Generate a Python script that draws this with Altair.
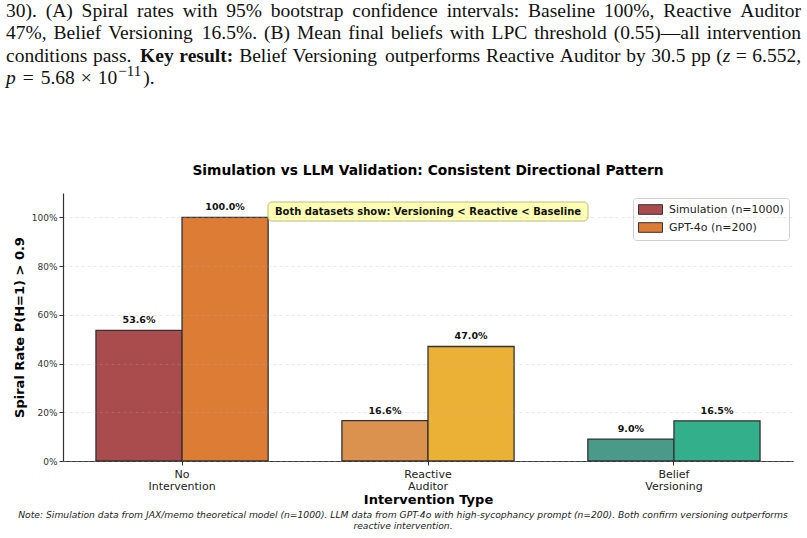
import altair as alt
import pandas as pd

categories = ["No Intervention", "Reactive Auditor", "Belief Versioning"]
series = ["Simulation (n=1000)", "GPT-4o (n=200)"]
sim_values = [0.536, 0.166, 0.090]
llm_values = [1.000, 0.470, 0.165]
sim_colors = ["#AA4B4E", "#DA924E", "#4A9A8A"]
llm_colors = ["#DD7C34", "#EBB136", "#33AF8C"]
legend_colors = ["#AA4B4E", "#DD7C34"]
y_ticks = [0, 0.2, 0.4, 0.6, 0.8, 1.0]

title_text = "Simulation vs LLM Validation: Consistent Directional Pattern"
annot_text = "Both datasets show: Versioning < Reactive < Baseline"
note_lines = [
    "Note: Simulation data from JAX/memo theoretical model (n=1000). LLM data from GPT-4o with high-sycophancy prompt (n=200). Both confirm versioning outperforms",
    "reactive intervention.",
]
para_line1 = "30). (A) Spiral rates with 95% bootstrap confidence intervals: Baseline 100%, Reactive Auditor"
para_line2 = "47%, Belief Versioning 16.5%. (B) Mean final beliefs with LPC threshold (0.55)\u2014all intervention"
para_line3_plain = "conditions pass."
para_line3_bold = "Key result:"
para_line3_rest = "Belief Versioning outperforms Reactive Auditor by 30.5 pp"
para_line3_math = ["(", "z", "=", "6.552,"]
para_line4 = ["p", "=", "5.68", "\u00d7", "10", "\u221211", ")."]

rows = []
for i, c in enumerate(categories):
    rows.append({"category": c, "series": series[0], "value": sim_values[i], "fill": sim_colors[i]})
    rows.append({"category": c, "series": series[1], "value": llm_values[i], "fill": llm_colors[i]})
df = pd.DataFrame(rows)
df["label"] = df["value"].map(lambda v: f"{v*100:.1f}%")

FONT = "DejaVu Sans"
SERIF = "Liberation Serif"

# ---------- chart ----------
x_enc = alt.X(
    "category:N",
    sort=categories,
    scale=alt.Scale(paddingInner=0.3, paddingOuter=0.134),
    axis=alt.Axis(
        title="Intervention Type",
        labelExpr="split(datum.label, ' ')",
        labelAngle=0,
        labelFontSize=11,
        labelColor="#222",
        labelLineHeight=12.5,
        labelPadding=3,
        tickSize=4,
        tickColor="#333",
        domainColor="#333",
        domainWidth=1.2,
        titleFontSize=13,
        titleFontWeight="bold",
        titlePadding=2,
        titleColor="#000",
        grid=False,
    ),
)
xoff_enc = alt.XOffset("series:N", sort=series, scale=alt.Scale(paddingInner=0, paddingOuter=0))
y_scale = alt.Scale(domain=[0, 1.1], nice=False)
y_enc = alt.Y(
    "value:Q",
    scale=y_scale,
    axis=alt.Axis(
        values=y_ticks,
        format=".0%",
        title="Spiral Rate P(H=1) > 0.9",
        labelFontSize=9,
        labelColor="#333",
        tickSize=4,
        tickColor="#333",
        domainColor="#333",
        domainWidth=1.2,
        grid=True,
        gridDash=[3, 3],
        gridColor="#b0b0b0",
        gridOpacity=0.35,
        gridWidth=0.8,
        titleFontSize=13,
        titleFontWeight="bold",
        titlePadding=5,
        titleColor="#000",
        zindex=1,
    ),
)

bars = alt.Chart(df).mark_bar(stroke="#333", strokeWidth=1.3).encode(
    x=x_enc,
    xOffset=xoff_enc,
    y=y_enc,
    fill=alt.Fill("fill:N", scale=None),
)

legend_layer = alt.Chart(df).mark_bar(opacity=0, stroke="#333", strokeWidth=1).encode(
    x=x_enc,
    xOffset=xoff_enc,
    y=alt.Y("value:Q", scale=y_scale),
    color=alt.Color(
        "series:N",
        sort=series,
        scale=alt.Scale(domain=series, range=legend_colors),
        legend=alt.Legend(
            title=None,
            orient="none",
            legendX=570,
            legendY=5,
            symbolType="M-1,-0.8L3,-0.8L3,0.8L-1,0.8Z",
            symbolSize=144,
            symbolStrokeColor="#333",
            symbolStrokeWidth=1,
            symbolOpacity=1,
            labelFontSize=11,
            labelColor="#222",
            labelFont=FONT,
            labelOffset=18,
            rowPadding=3,
            padding=5,
            strokeColor="#d0d0d0",
            fillColor="#ffffff",
            cornerRadius=3,
        ),
    ),
)

labels = alt.Chart(df).mark_text(
    dy=-5, baseline="bottom", fontWeight="bold", fontSize=9.5, font=FONT, color="#111"
).encode(
    x=x_enc,
    xOffset=xoff_enc,
    y=alt.Y("value:Q", scale=y_scale),
    text="label:N",
)

one = pd.DataFrame({"k": [0]})

title_mark = alt.Chart(one).mark_text(
    text=title_text, fontSize=13.8, fontWeight="bold", font=FONT, color="#000",
    baseline="middle", align="center",
).encode(x=alt.value(365), y=alt.value(-22))

annot_box = alt.Chart(one).mark_rect(
    fill="#FFFFB3", stroke="#bcbc80", strokeWidth=1, cornerRadius=4
).encode(x=alt.value(205), x2=alt.value(525), y=alt.value(9), y2=alt.value(28))
annot_txt = alt.Chart(one).mark_text(
    text=annot_text, fontSize=10, fontWeight="bold", font=FONT, color="#111", baseline="middle", align="center"
).encode(x=alt.value(365), y=alt.value(18.5))

note = alt.Chart(one).mark_text(
    text=note_lines, fontSize=9.2, fontStyle="italic", font=FONT, color="#222",
    baseline="top", align="center", lineHeight=11,
).encode(x=alt.value(340), y=alt.value(318))

# ---------- paragraph (justified serif text) ----------
PSZ = 19.5
ROMAN = {" ": 250, "%": 833, "(": 333, ")": 333, ",": 250, ".": 250, ":": 278, "=": 564,
         "\u2014": 1000, "\u00d7": 564, "\u2212": 564,
         "A": 722, "B": 667, "C": 667, "L": 611, "M": 889, "P": 556, "R": 667, "S": 556, "V": 722,
         "a": 444, "b": 500, "c": 444, "d": 500, "e": 444, "f": 333, "g": 500, "h": 500, "i": 278,
         "j": 278, "k": 500, "l": 278, "m": 778, "n": 500, "o": 500, "p": 500, "q": 500, "r": 333,
         "s": 389, "t": 278, "u": 500, "v": 500, "w": 722, "x": 500, "y": 500, "z": 444}
BOLD = {"K": 778, "e": 444, "y": 500, "r": 444, "s": 389, "u": 556, "l": 278, "t": 333, ":": 333}
ITALIC = {"z": 389, "p": 500}
TABLES = {"n": ROMAN, "b": BOLD, "i": ITALIC}


def tw(text, style, size=PSZ):
    tab = TABLES[style]
    return sum(tab.get(ch, 500) for ch in text) * size / 1000.0


def ptxt(txt, x, y, style="n", size=PSZ):
    return alt.Chart(one).mark_text(
        text=txt, fontSize=size, font=SERIF,
        fontWeight="bold" if style == "b" else "normal",
        fontStyle="italic" if style == "i" else "normal",
        color="#111", baseline="alphabetic", align="left",
    ).encode(x=alt.value(x - 63), y=alt.value(y - 193))


def justify(words, glues, y, x0=6.0, x1=801.0):
    # words: list of lists of (text, style); glues: ("s", extra) stretchable or ("f", px) fixed
    widths = [sum(tw(t, s) for t, s in w) for w in words]
    fixed = sum(v for k, v in glues)
    n_s = sum(1 for k, v in glues if k == "s")
    space = (x1 - x0 - sum(widths) - fixed) / n_s
    out, x = [], x0
    for i, w in enumerate(words):
        cx = x
        for t, s in w:
            out.append(ptxt(t, cx, y, s))
            cx += tw(t, s)
        x += widths[i]
        if i < len(glues):
            k, v = glues[i]
            x += v + (space if k == "s" else 0)
    return out


def plain_words(text, style="n"):
    return [[(w, style)] for w in text.split(" ")]


para = []
w1 = plain_words(para_line1)
para += justify(w1, [("s", 0)] * (len(w1) - 1), 16.5)
w2 = plain_words(para_line2)
para += justify(w2, [("s", 0)] * (len(w2) - 1), 39)
w3 = (plain_words(para_line3_plain) + plain_words(para_line3_bold, "b") + plain_words(para_line3_rest)
      + [[(para_line3_math[0], "n"), (para_line3_math[1], "i")], [(para_line3_math[2], "n")],
         [(para_line3_math[3], "n")]])
g3 = [("s", 0)] * (len(w3) - 3) + [("f", 5.4), ("f", 5.4)]
g3[1] = ("s", 3.0)   # a little extra room between "pass." and the bold "Key"
para += justify(w3, g3, 61.5)

# line 4: p = 5.68 x 10^-11).
y4 = 83.5
x = 6.0
para.append(ptxt(para_line4[0], x, y4, "i")); x += tw(para_line4[0], "i") + 7
para.append(ptxt(para_line4[1], x, y4)); x += tw(para_line4[1], "n") + 7
para.append(ptxt(para_line4[2], x, y4)); x += tw(para_line4[2], "n") + 6
para.append(ptxt(para_line4[3], x, y4)); x += tw(para_line4[3], "n") + 6
para.append(ptxt(para_line4[4], x, y4)); x += tw(para_line4[4], "n") + 1
para.append(ptxt(para_line4[5], x, y4 - 8, size=15)); x += tw(para_line4[5], "n", 15) + 1.5
para.append(ptxt(para_line4[6], x, y4))

chart = alt.layer(
    bars, legend_layer, labels, annot_box, annot_txt, note, title_mark, *para
).properties(
    width=730,
    height=268,
    autosize=alt.AutoSizeParams(type="none"),
    padding={"left": 63, "top": 193, "right": 14, "bottom": 77},
).configure_view(stroke=None).configure_axis(
    labelFont=FONT, titleFont=FONT
).configure_text(font=FONT)

chart.save("out.html", embed_options={"renderer": "svg", "actions": False})
